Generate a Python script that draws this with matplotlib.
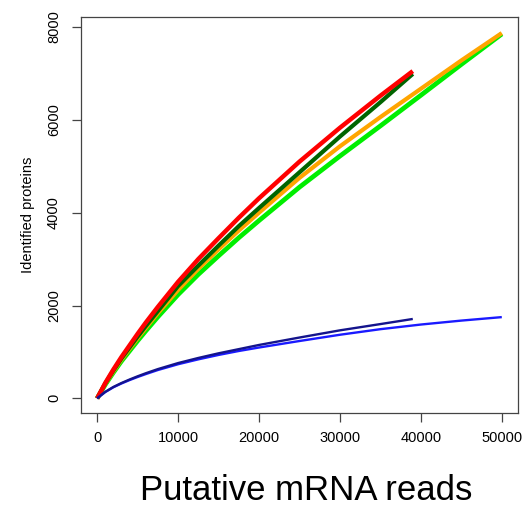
import matplotlib
matplotlib.use('Agg')
import matplotlib.pyplot as plt

# rarefaction-like curves
reads_short = [0, 1000, 2000, 3000, 4000, 5000, 6000, 7500, 10000, 12500,
               15000, 17500, 20000, 25000, 30000, 35000, 39000]
reads_long = [0, 1000, 2000, 3000, 4000, 5000, 6000, 7500, 10000, 12500,
              15000, 17500, 20000, 25000, 30000, 35000, 40000, 45000, 50000]

red_y = [0, 330, 620, 890, 1140, 1390, 1630, 1970, 2510, 3000,
         3450, 3890, 4310, 5100, 5830, 6520, 7050]
darkgreen_y = [0, 320, 600, 860, 1095, 1330, 1555, 1880, 2420, 2860,
               3290, 3710, 4100, 4870, 5640, 6380, 6990]
orange_y = [0, 310, 580, 835, 1065, 1295, 1515, 1835, 2335, 2790,
            3210, 3615, 4000, 4750, 5430, 6060, 6670, 7280, 7870]
green_y = [0, 295, 555, 800, 1020, 1240, 1450, 1755, 2235, 2670,
           3070, 3460, 3830, 4550, 5220, 5870, 6530, 7195, 7850]
navy_y = [0, 140, 245, 330, 405, 475, 540, 630, 760, 870,
          970, 1060, 1150, 1310, 1465, 1600, 1710]
blue_y = [0, 135, 238, 320, 393, 460, 522, 610, 735, 840,
          935, 1020, 1095, 1235, 1370, 1490, 1590, 1675, 1750]

xticks = [0, 10000, 20000, 30000, 40000, 50000]
yticks = [0, 2000, 4000, 6000, 8000]

plt.rcParams['font.family'] = ['Liberation Sans', 'DejaVu Sans']

fig = plt.figure(figsize=(5.31, 5.09), dpi=100)
ax = fig.add_axes([0.1525, 0.1886, 0.823, 0.778])

ax.plot(reads_long, green_y, color='#00ee00', lw=3.4, solid_capstyle='butt')
ax.plot(reads_long, orange_y, color='#ffa500', lw=3.0, solid_capstyle='butt')
ax.plot(reads_short, darkgreen_y, color='#006400', lw=3.0, solid_capstyle='butt')
ax.plot(reads_short, red_y, color='#ff0000', lw=3.2, solid_capstyle='butt')
ax.plot(reads_long, blue_y, color='#1a1aff', lw=1.7, solid_capstyle='butt')
ax.plot(reads_short, navy_y, color='#14148c', lw=1.7, solid_capstyle='butt')

ax.set_xlim(-2000, 52000)
ax.set_ylim(-316, 8216)
ax.set_xticks(xticks)
ax.set_xticklabels([str(t) for t in xticks])
ax.set_yticks(yticks)
ax.set_yticklabels([str(t) for t in yticks], rotation=90, va='center')
ax.tick_params(direction='out', length=6.3, width=0.9, color='#444444',
               labelsize=10.5, pad=7)
ax.tick_params(axis='y', pad=8)
for s in ax.spines.values():
    s.set_color('#444444')
    s.set_linewidth(0.9)

ax.set_ylabel('Identified proteins', fontsize=10.5, labelpad=9)
fig.text(0.577, 0.004, 'Putative mRNA reads', fontsize=25, ha='center', va='bottom')

fig.savefig('out.png', dpi=100)
